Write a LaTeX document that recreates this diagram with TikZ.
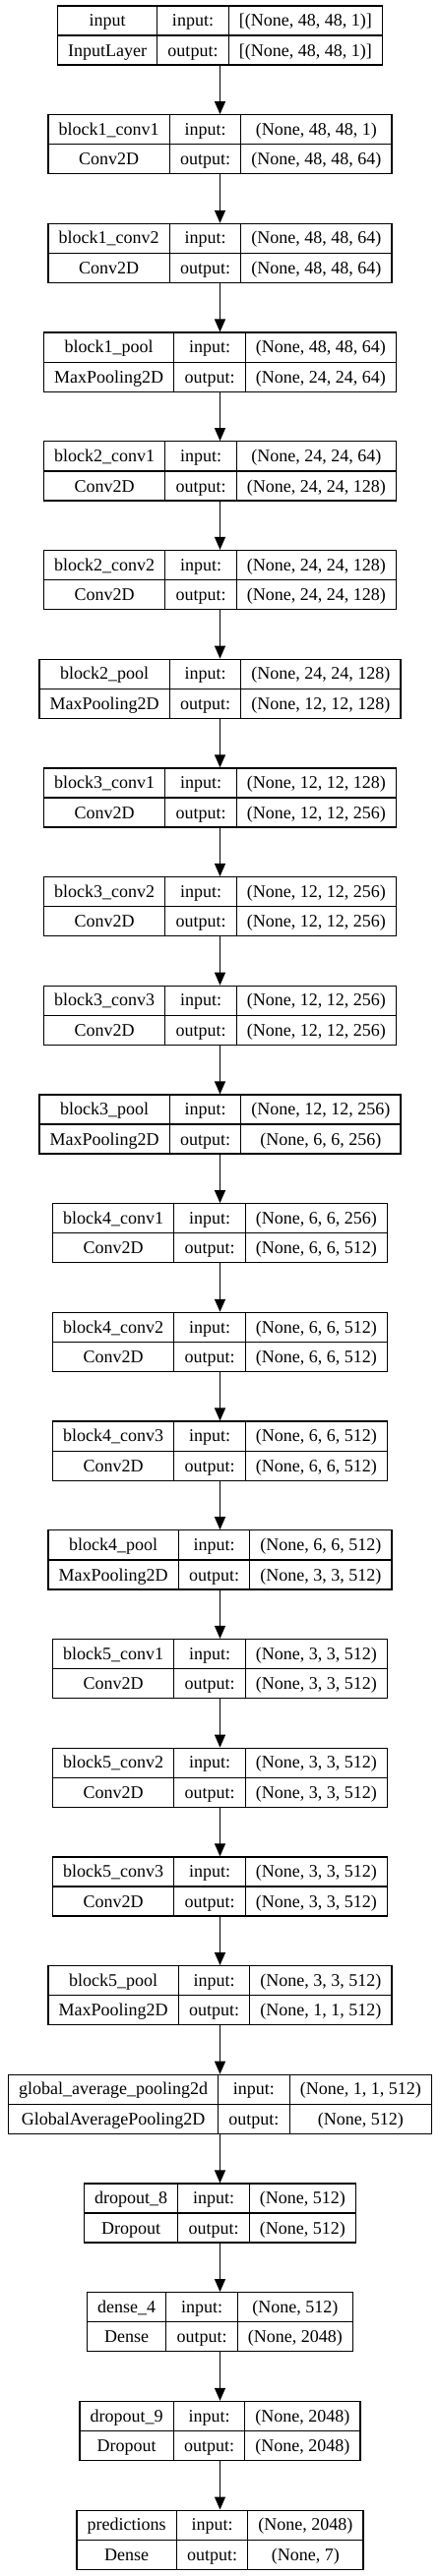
\documentclass[tikz,border=0pt]{standalone}
\usepackage{fontspec}
\setmainfont{Liberation Serif}
\usetikzlibrary{arrows.meta}

\setlength{\arrayrulewidth}{1.3pt}
\setlength{\tabcolsep}{10.7pt}
\renewcommand{\arraystretch}{1.36}
\newcommand{\layertab}[4]{\begin{tabular}{c|c|c}#1 & input: & #3\\\hline #2 & output: & #4\end{tabular}}

\tikzset{
    layer/.style={draw, line width=1.3pt, inner sep=0pt, font=\fontsize{18}{21.6}\selectfont},
    flow/.style={line width=1.3pt, -{Triangle[length=13pt,width=11pt]}}
}

\begin{document}
\begin{tikzpicture}[x=1pt, y=-1pt]
            \fill[white] (0,0) rectangle (447,2619);
            \useasboundingbox (0,0) rectangle (447,2619);

            \node[layer] (input) at (223.5,36.05) {\layertab{input}{InputLayer}{[(None, 48, 48, 1)]}{[(None, 48, 48, 1)]}};
            \node[layer] (b1c1) at (223.5,146.75) {\layertab{block1\_conv1}{Conv2D}{(None, 48, 48, 1)}{(None, 48, 48, 64)}};
            \node[layer] (b1c2) at (223.5,257.45) {\layertab{block1\_conv2}{Conv2D}{(None, 48, 48, 64)}{(None, 48, 48, 64)}};
            \node[layer] (b1p) at (223.5,368.15) {\layertab{block1\_pool}{MaxPooling2D}{(None, 48, 48, 64)}{(None, 24, 24, 64)}};
            \node[layer] (b2c1) at (223.5,478.85) {\layertab{block2\_conv1}{Conv2D}{(None, 24, 24, 64)}{(None, 24, 24, 128)}};
            \node[layer] (b2c2) at (223.5,589.55) {\layertab{block2\_conv2}{Conv2D}{(None, 24, 24, 128)}{(None, 24, 24, 128)}};
            \node[layer] (b2p) at (223.5,700.25) {\layertab{block2\_pool}{MaxPooling2D}{(None, 24, 24, 128)}{(None, 12, 12, 128)}};
            \node[layer] (b3c1) at (223.5,810.95) {\layertab{block3\_conv1}{Conv2D}{(None, 12, 12, 128)}{(None, 12, 12, 256)}};
            \node[layer] (b3c2) at (223.5,921.65) {\layertab{block3\_conv2}{Conv2D}{(None, 12, 12, 256)}{(None, 12, 12, 256)}};
            \node[layer] (b3c3) at (223.5,1032.35) {\layertab{block3\_conv3}{Conv2D}{(None, 12, 12, 256)}{(None, 12, 12, 256)}};
            \node[layer] (b3p) at (223.5,1143.05) {\layertab{block3\_pool}{MaxPooling2D}{(None, 12, 12, 256)}{(None, 6, 6, 256)}};
            \node[layer] (b4c1) at (223.5,1253.75) {\layertab{block4\_conv1}{Conv2D}{(None, 6, 6, 256)}{(None, 6, 6, 512)}};
            \node[layer] (b4c2) at (223.5,1364.45) {\layertab{block4\_conv2}{Conv2D}{(None, 6, 6, 512)}{(None, 6, 6, 512)}};
            \node[layer] (b4c3) at (223.5,1475.15) {\layertab{block4\_conv3}{Conv2D}{(None, 6, 6, 512)}{(None, 6, 6, 512)}};
            \node[layer] (b4p) at (223.5,1585.85) {\layertab{block4\_pool}{MaxPooling2D}{(None, 6, 6, 512)}{(None, 3, 3, 512)}};
            \node[layer] (b5c1) at (223.5,1696.55) {\layertab{block5\_conv1}{Conv2D}{(None, 3, 3, 512)}{(None, 3, 3, 512)}};
            \node[layer] (b5c2) at (223.5,1807.25) {\layertab{block5\_conv2}{Conv2D}{(None, 3, 3, 512)}{(None, 3, 3, 512)}};
            \node[layer] (b5c3) at (223.5,1917.95) {\layertab{block5\_conv3}{Conv2D}{(None, 3, 3, 512)}{(None, 3, 3, 512)}};
            \node[layer] (b5p) at (223.5,2028.65) {\layertab{block5\_pool}{MaxPooling2D}{(None, 3, 3, 512)}{(None, 1, 1, 512)}};
            \node[layer] (gap) at (223.5,2139.35) {\layertab{global\_average\_pooling2d}{GlobalAveragePooling2D}{(None, 1, 1, 512)}{(None, 512)}};
            \node[layer] (drop8) at (223.5,2250.05) {\layertab{dropout\_8}{Dropout}{(None, 512)}{(None, 512)}};
            \node[layer] (dense4) at (223.5,2360.75) {\layertab{dense\_4}{Dense}{(None, 512)}{(None, 2048)}};
            \node[layer] (drop9) at (223.5,2471.45) {\layertab{dropout\_9}{Dropout}{(None, 2048)}{(None, 2048)}};
            \node[layer] (pred) at (223.5,2582.15) {\layertab{predictions}{Dense}{(None, 2048)}{(None, 7)}};

            \draw[flow] (input) -- (b1c1);
            \draw[flow] (b1c1) -- (b1c2);
            \draw[flow] (b1c2) -- (b1p);
            \draw[flow] (b1p) -- (b2c1);
            \draw[flow] (b2c1) -- (b2c2);
            \draw[flow] (b2c2) -- (b2p);
            \draw[flow] (b2p) -- (b3c1);
            \draw[flow] (b3c1) -- (b3c2);
            \draw[flow] (b3c2) -- (b3c3);
            \draw[flow] (b3c3) -- (b3p);
            \draw[flow] (b3p) -- (b4c1);
            \draw[flow] (b4c1) -- (b4c2);
            \draw[flow] (b4c2) -- (b4c3);
            \draw[flow] (b4c3) -- (b4p);
            \draw[flow] (b4p) -- (b5c1);
            \draw[flow] (b5c1) -- (b5c2);
            \draw[flow] (b5c2) -- (b5c3);
            \draw[flow] (b5c3) -- (b5p);
            \draw[flow] (b5p) -- (gap);
            \draw[flow] (gap) -- (drop8);
            \draw[flow] (drop8) -- (dense4);
            \draw[flow] (dense4) -- (drop9);
            \draw[flow] (drop9) -- (pred);
\end{tikzpicture}
\end{document}
